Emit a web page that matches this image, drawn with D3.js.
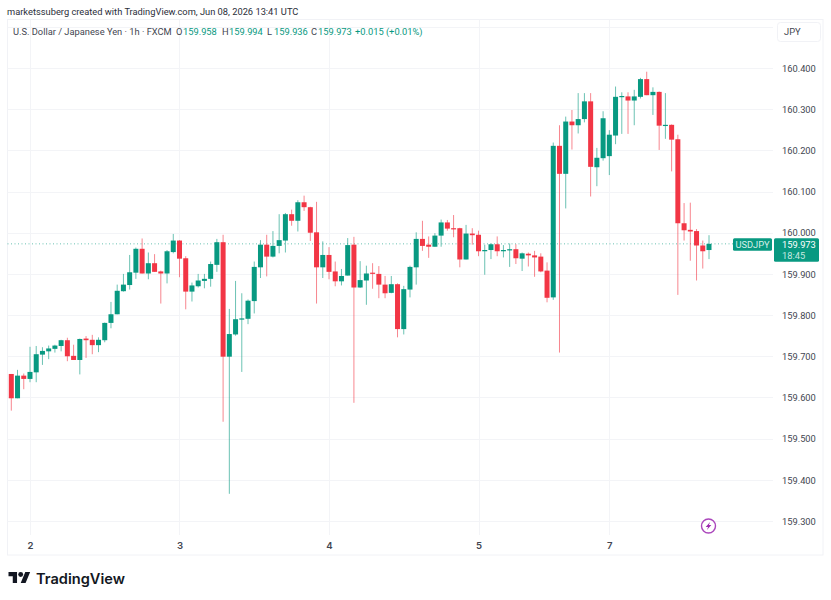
<!DOCTYPE html>
<html>
<head>
<meta charset="utf-8">
<script src="https://cdn.jsdelivr.net/npm/d3@7/dist/d3.min.js"></script>
<style>
  html, body { margin: 0; padding: 0; background: #fff; }
  svg { display: block; }
  text { font-family: Roboto, "Liberation Sans", sans-serif; }
</style>
</head>
<body>
<script>
// USD/JPY hourly candles, oldest first
const opens = [159.657,159.598,159.653,159.645,159.661,159.704,159.712,159.718,159.725,159.739,159.701,159.691,159.743,159.740,159.727,159.739,159.781,159.802,159.858,159.873,159.903,159.961,159.901,159.926,159.906,159.901,159.953,159.981,159.938,159.857,159.870,159.883,159.888,159.922,159.977,159.699,159.753,159.789,159.791,159.834,159.916,159.971,159.942,159.968,159.981,160.045,160.029,160.074,160.062,160.001,159.916,159.946,159.906,159.882,159.896,159.971,159.867,159.884,159.903,159.900,159.874,159.854,159.875,159.766,159.862,159.916,159.985,159.971,159.966,159.993,160.025,160.011,160.011,159.935,159.998,159.995,159.955,159.958,159.972,159.955,159.957,159.960,159.937,159.949,159.945,159.942,159.908,159.843,160.211,160.143,160.270,160.261,160.276,160.319,160.159,160.181,160.186,160.236,160.330,160.331,160.321,160.330,160.373,160.334,160.342,160.260,160.262,160.227,160.023,160.007,160.004,159.969,159.958];
const highs = [159.657,159.667,159.658,159.723,159.725,159.722,159.726,159.728,159.740,159.745,159.728,159.743,159.749,159.752,159.746,159.782,159.832,159.874,159.900,159.946,159.964,159.986,159.952,159.948,159.908,159.958,159.997,159.982,159.943,159.879,159.900,159.900,159.930,159.985,159.995,159.815,159.883,159.853,159.838,159.930,159.982,159.995,160.004,160.045,160.048,160.056,160.079,160.090,160.063,160.075,159.979,159.965,159.930,159.912,159.987,159.990,159.931,159.920,159.926,159.919,159.895,159.895,159.877,159.871,159.920,160.001,160.029,159.991,159.999,160.032,160.031,160.043,160.012,160.019,160.011,160.005,159.971,159.974,159.991,159.970,159.974,159.972,159.952,159.952,159.956,159.950,159.928,160.219,160.261,160.282,160.298,160.339,160.339,160.339,160.206,160.295,160.249,160.355,160.341,160.341,160.347,160.376,160.391,160.353,160.343,160.339,160.263,160.238,160.072,160.073,160.009,159.981,159.994];
const lows = [159.568,159.598,159.620,159.637,159.637,159.679,159.693,159.709,159.712,159.688,159.691,159.656,159.696,159.705,159.710,159.734,159.768,159.802,159.857,159.862,159.888,159.901,159.887,159.905,159.828,159.877,159.950,159.892,159.814,159.833,159.867,159.865,159.869,159.905,159.541,159.366,159.750,159.662,159.778,159.804,159.890,159.894,159.940,159.950,159.952,160.017,160.003,160.053,159.980,159.828,159.890,159.887,159.870,159.872,159.896,159.587,159.866,159.825,159.864,159.841,159.841,159.853,159.746,159.753,159.843,159.874,159.956,159.939,159.966,159.966,160.005,159.989,159.916,159.935,159.971,159.943,159.898,159.936,159.943,159.940,159.917,159.924,159.907,159.918,159.893,159.904,159.831,159.837,159.709,160.059,160.202,160.241,160.268,160.088,160.113,160.175,160.140,160.215,160.240,160.240,160.261,160.326,160.334,160.286,160.201,160.228,160.149,159.849,159.981,159.932,159.884,159.913,159.936];
const closes = [159.598,159.653,159.645,159.662,159.705,159.713,159.719,159.726,159.739,159.700,159.691,159.742,159.739,159.727,159.740,159.781,159.802,159.859,159.874,159.904,159.961,159.901,159.926,159.905,159.901,159.955,159.981,159.937,159.857,159.872,159.884,159.888,159.924,159.977,159.699,159.754,159.790,159.792,159.835,159.917,159.971,159.942,159.968,159.982,160.045,160.029,160.074,160.062,160.000,159.916,159.946,159.905,159.882,159.895,159.970,159.867,159.885,159.901,159.901,159.874,159.853,159.875,159.766,159.863,159.917,159.985,159.968,159.966,159.993,160.025,160.010,160.009,159.935,159.998,159.994,159.955,159.958,159.972,159.955,159.958,159.960,159.938,159.950,159.945,159.940,159.906,159.842,160.211,160.143,160.270,160.261,160.276,160.319,160.160,160.182,160.278,160.238,160.330,160.332,160.321,160.331,160.373,160.334,160.342,160.260,160.262,160.226,160.023,160.006,160.003,159.969,159.955,159.973];

const priceTicks = [160.4,160.3,160.2,160.1,160.0,159.9,159.8,159.7,159.6,159.5,159.4,159.3];
const gridPrices = [160.5].concat(priceTicks);
const dayTicks = [3,27,51,75,96];
const dayLabels = ["2","3","4","5","7"];
const lastPrice = 159.973;
const countdown = "18:45";
const symbol = "USDJPY";
const currency = "JPY";
const creditLine = "marketssuberg created with TradingView.com, Jun 08, 2026 13:41 UTC";
const instrument = "U.S. Dollar / Japanese Yen · 1h · FXCM";
const ohlcLegend = [["O","159.958"],["H","159.994"],["L","159.936"],["C","159.973"]];
const changeText = "+0.015 (+0.01%)";

const up = "#089981", down = "#f23645", ink = "#434651", gridColor = "#f3f4f7", frameColor = "#f1f2f6";
const width = 831, height = 600;
const pane = {left: 7.5, right: 773, top: 19.5, bottom: 535, outerRight: 823, outerBottom: 555};
const labelSize = 9.3;

const svg = d3.select("body").append("svg").attr("width", width).attr("height", height);

const x = d3.scaleLinear().domain([0, opens.length - 1]).range([11.3, 709]);
const y = d3.scaleLinear().domain([159.3, 160.4]).range([521, 68]);

// Outer frame
svg.append("rect").attr("x", pane.left).attr("y", pane.top)
  .attr("width", pane.outerRight - pane.left).attr("height", pane.outerBottom - pane.top)
  .attr("fill", "none").attr("stroke", frameColor);

// Grid
svg.append("g").selectAll("line").data(gridPrices).join("line")
  .attr("x1", pane.left).attr("x2", pane.right)
  .attr("y1", d => Math.round(y(d)) + .5).attr("y2", d => Math.round(y(d)) + .5)
  .attr("stroke", gridColor);
svg.append("g").selectAll("line").data(dayTicks).join("line")
  .attr("x1", d => Math.round(x(d)) + .5).attr("x2", d => Math.round(x(d)) + .5)
  .attr("y1", pane.top).attr("y2", pane.bottom)
  .attr("stroke", gridColor);

// Credit line and legend
svg.append("text").attr("x", 7).attr("y", 15).attr("font-size", labelSize).attr("fill", "#2a2e39").text(creditLine);
svg.append("text").attr("x", 13).attr("y", 35).attr("font-size", labelSize).attr("fill", ink).text(instrument);
const legendX = [176, 222, 267, 311];
const legend = svg.append("g");
ohlcLegend.forEach(([k, v], i) => {
  legend.append("text").attr("x", legendX[i]).attr("y", 35).attr("font-size", labelSize).attr("fill", ink).text(k);
  legend.append("text").attr("x", legendX[i] + 7).attr("y", 35).attr("font-size", labelSize).attr("fill", up).text(v);
});
legend.append("text").attr("x", 355).attr("y", 35).attr("font-size", labelSize).attr("fill", up).text(changeText);

// Currency button
svg.append("rect").attr("x", 777.5).attr("y", 22.5).attr("width", 43).attr("height", 19).attr("rx", 3)
  .attr("fill", "#fff").attr("stroke", frameColor);
svg.append("text").attr("x", 784).attr("y", 35).attr("font-size", labelSize).attr("fill", ink).text(currency);

// Last price guide
svg.append("line").attr("x1", pane.left).attr("x2", pane.right)
  .attr("y1", y(lastPrice)).attr("y2", y(lastPrice))
  .attr("stroke", up).attr("stroke-opacity", .6).attr("stroke-dasharray", "1 2.5");

// Candles
const candles = svg.append("g").selectAll("g").data(opens.map((o, i) => i)).join("g")
  .attr("fill", i => closes[i] >= opens[i] ? up : down)
  .attr("stroke", i => closes[i] >= opens[i] ? up : down);
candles.append("line")
  .attr("x1", i => x(i)).attr("x2", i => x(i))
  .attr("y1", i => y(highs[i])).attr("y2", i => y(lows[i]))
  .attr("stroke-width", 1).attr("stroke-opacity", .6);
candles.append("rect")
  .attr("x", i => x(i) - 2.5).attr("width", 5)
  .attr("y", i => y(Math.max(opens[i], closes[i])))
  .attr("height", i => Math.max(1.2, Math.abs(y(opens[i]) - y(closes[i]))))
  .attr("stroke", "none");

// Price scale and time scale
const priceAxis = d3.axisRight(y).tickValues(priceTicks).tickFormat(d3.format(".3f")).tickSize(0).tickPadding(0);
svg.append("g").attr("transform", `translate(782,0)`).call(priceAxis)
  .call(g => g.select(".domain").remove())
  .selectAll("text").attr("font-size", labelSize).attr("fill", ink).attr("dy", "0.35em")
  .style("font-family", 'Roboto, "Liberation Sans", sans-serif');
const timeAxis = d3.axisBottom(x).tickValues(dayTicks).tickFormat((d, i) => dayLabels[i]).tickSize(0).tickPadding(0);
svg.append("g").attr("transform", `translate(0,542)`).call(timeAxis)
  .call(g => g.select(".domain").remove())
  .selectAll("text").attr("font-size", 9.6).attr("font-weight", 600).attr("fill", ink)
  .style("font-family", 'Inter, "Liberation Sans", sans-serif');

// Last price tags
const tagY = y(lastPrice);
svg.append("rect").attr("x", 733).attr("y", tagY - 5.5).attr("width", 39).attr("height", 12.5).attr("rx", 1.5).attr("fill", up);
svg.append("text").attr("x", 752.5).attr("y", tagY + 4).attr("text-anchor", "middle").attr("font-size", labelSize)
  .attr("fill", "#d6efe9").text(symbol);
svg.append("rect").attr("x", 774).attr("y", tagY - 5.5).attr("width", 45).attr("height", 23.5).attr("rx", 1.5).attr("fill", up);
svg.append("text").attr("x", 782).attr("y", tagY + 4).attr("font-size", labelSize).attr("fill", "#fff").text(d3.format(".3f")(lastPrice));
svg.append("text").attr("x", 782).attr("y", tagY + 15).attr("font-size", labelSize).attr("fill", "#c5e8e0").text(countdown);

// Lightning badge
const badge = svg.append("g").attr("transform", `translate(708.5,526)`);
badge.append("circle").attr("r", 7).attr("fill", "#fff").attr("stroke", "#ab47bc").attr("stroke-width", 1.4);
badge.append("path").attr("d", "M1.6,-4 L-2.8,0.9 L-0.4,0.9 L-1.6,4 L2.8,-0.9 L0.4,-0.9 Z").attr("fill", "#9c27b0");

// Wordmark
const mark = svg.append("g").attr("transform", "translate(8.5,569.6) scale(0.61)").attr("fill", "#131722");
mark.append("path").attr("d", "M14 22H7V11H0V4h14v18zM28 22h-8l7.5-18h8L28 22z");
mark.append("circle").attr("cx", 20).attr("cy", 8).attr("r", 4);
svg.append("text").attr("x", 36).attr("y", 583.5).attr("font-size", 14.6).attr("font-weight", 600)
  .style("font-family", 'Inter, "Liberation Sans", sans-serif')
  .attr("fill", "#131722").text("TradingView");
</script>
</body>
</html>
